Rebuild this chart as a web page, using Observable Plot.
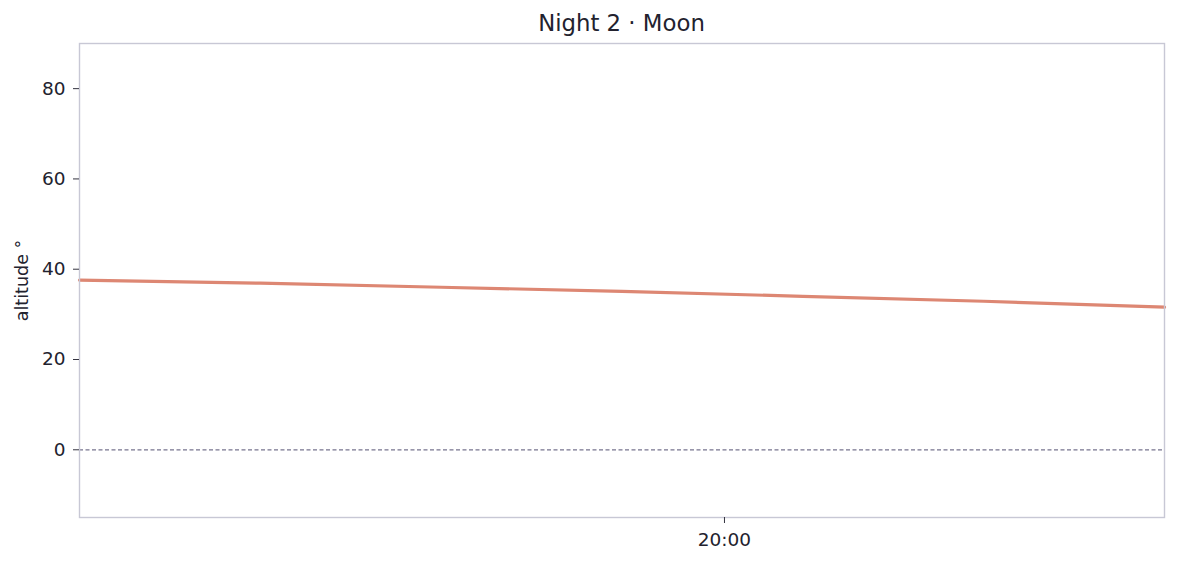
<!DOCTYPE html>
<html>
<head>
<meta charset="utf-8">
<script src="https://cdn.jsdelivr.net/npm/d3@7"></script>
<script src="https://cdn.jsdelivr.net/npm/@observablehq/plot@0.6"></script>
<style>
  body { margin: 0; background: #fff; font-family: "DejaVu Sans", sans-serif; }
  #title { position: relative; height: 36px; }
  #title span { position: absolute; left: 79px; width: 1085px; top: 10px; text-align: center; font-size: 22.8px; color: #22222e; white-space: nowrap; }
</style>
</head>
<body>
<div id="title"><span>Night 2 · Moon</span></div>
<div id="chart"></div>
<script>
// Data
const times = ["2024-01-01T18:13Z", "2024-01-01T18:43Z", "2024-01-01T19:13Z", "2024-01-01T19:43Z", "2024-01-01T20:13Z", "2024-01-01T20:43Z", "2024-01-01T21:13Z"];
const altitude = [37.6, 36.9, 36.0, 35.1, 34.0, 32.9, 31.6];
const xTicks = ["2024-01-01T20:00Z"];
const yTicks = [0, 20, 40, 60, 80];
const yDomain = [-15, 90];

const data = times.map((t, i) => ({time: new Date(t), alt: altitude[i]}));
const fmt = d3.utcFormat("%H:%M");

const chart = Plot.plot({
  width: 1177,
  height: 528,
  marginLeft: 79,
  marginRight: 13,
  marginTop: 7,
  marginBottom: 47,
  style: {fontFamily: "DejaVu Sans, sans-serif", color: "#22222e", background: "#fff"},
  x: {type: "utc", domain: [data[0].time, data[data.length - 1].time]},
  y: {domain: yDomain},
  marks: [
    Plot.ruleY([0], {stroke: "#77748e", strokeWidth: 1.3, strokeDasharray: "4,2.5"}),
    Plot.line(data, {x: "time", y: "alt", stroke: "#dd8773", strokeWidth: 3.2}),
    Plot.frame({stroke: "#c8c8d5", strokeWidth: 1.4}),
    Plot.axisX({ticks: xTicks.map(t => new Date(t)), tickFormat: fmt, tickSize: 6, tickPadding: 9, fontSize: 18.5, stroke: "#33333f", label: null}),
    Plot.axisY({ticks: yTicks, tickSize: 6, tickPadding: 8, fontSize: 18.5, stroke: "#33333f", label: null}),
    Plot.text(["altitude °"], {frameAnchor: "left", textAnchor: "middle", dx: -57, rotate: -90, fontSize: 17.5, fill: "#22222e"})
  ]
});
document.getElementById("chart").appendChild(chart);
</script>
</body>
</html>
